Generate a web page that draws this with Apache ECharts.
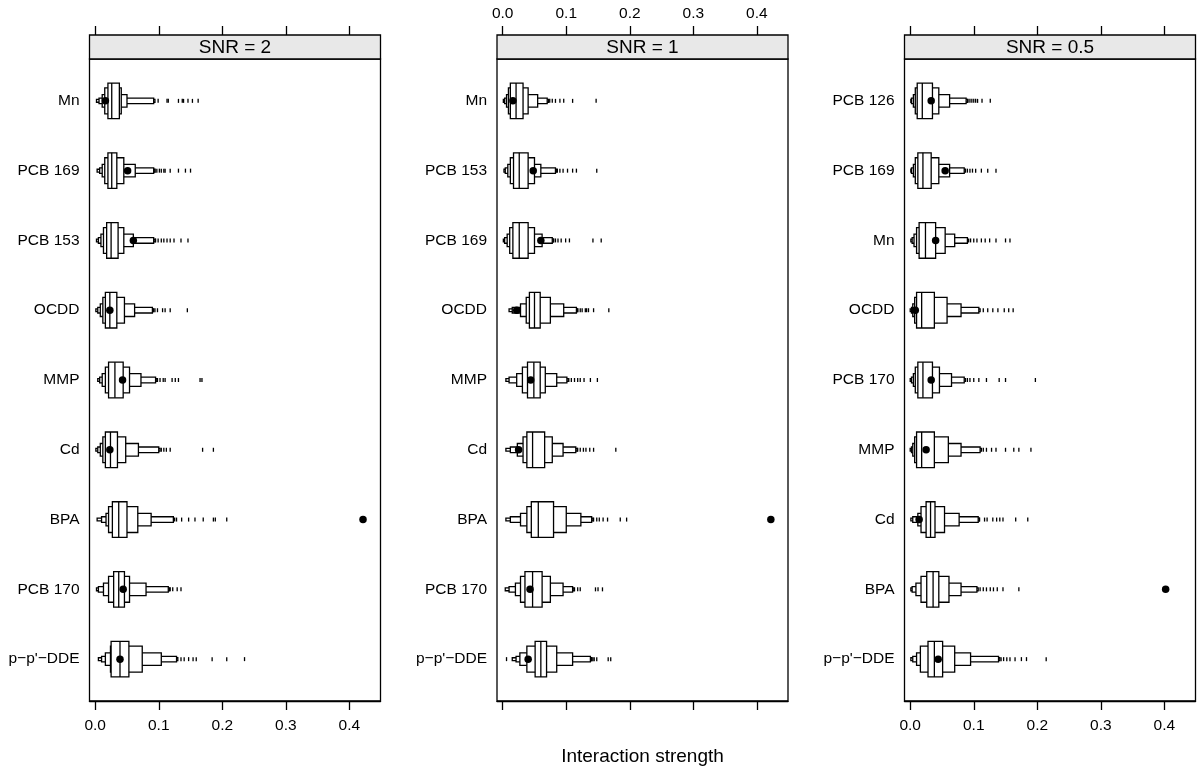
<!DOCTYPE html>
<html>
<head>
<meta charset="utf-8">
<script src="https://cdn.jsdelivr.net/npm/echarts@6/dist/echarts.min.js"></script>
<style>html,body{margin:0;padding:0;background:#fff}#c{width:1200px;height:775px}</style>
</head>
<body>
<div id="c"></div>
<script>
// ---------- DATA ----------
const panelTitles = ['SNR = 2', 'SNR = 1', 'SNR = 0.5'];
const xTicks = [0, 0.1, 0.2, 0.3, 0.4];

// categories, top to bottom
const categoriesSNR2 = ['Mn', 'PCB 169', 'PCB 153', 'OCDD', 'MMP', 'Cd', 'BPA', 'PCB 170', 'p\u2212p\'\u2212DDE'];
const categoriesSNR1 = ['Mn', 'PCB 153', 'PCB 169', 'OCDD', 'MMP', 'Cd', 'BPA', 'PCB 170', 'p\u2212p\'\u2212DDE'];
const categoriesSNR05 = ['PCB 126', 'PCB 169', 'Mn', 'OCDD', 'PCB 170', 'MMP', 'Cd', 'BPA', 'p\u2212p\'\u2212DDE'];

// letter values per row: [Blo, Clo, Dlo, Elo, Flo, median, Fhi, Ehi, Dhi, Chi, Bhi]
const lettersSNR2 = [
  [0.002, 0.006, 0.011, 0.015, 0.020, 0.026, 0.038, 0.041, 0.050, 0.092, 0.094],
  [0.003, 0.007, 0.011, 0.015, 0.020, 0.026, 0.034, 0.045, 0.063, 0.092, 0.094],
  [0.002, 0.005, 0.009, 0.013, 0.018, 0.025, 0.036, 0.045, 0.060, 0.092, 0.094],
  [0.001, 0.004, 0.008, 0.012, 0.016, 0.023, 0.034, 0.046, 0.062, 0.090, 0.092],
  [0.004, 0.007, 0.011, 0.016, 0.021, 0.031, 0.044, 0.054, 0.072, 0.095, 0.097],
  [0.001, 0.004, 0.008, 0.012, 0.016, 0.024, 0.035, 0.048, 0.068, 0.100, 0.102],
  [0.003, 0.010, 0.017, 0.021, 0.027, 0.037, 0.050, 0.067, 0.088, 0.123, 0.125],
  [0.002, 0.005, 0.013, 0.021, 0.029, 0.037, 0.046, 0.054, 0.080, 0.115, 0.117],
  [0.005, 0.010, 0.016, 0.024, 0.025, 0.039, 0.053, 0.074, 0.104, 0.128, 0.130]
];
const lettersSNR1 = [
  [0.001, 0.003, 0.006, 0.009, 0.012, 0.021, 0.032, 0.040, 0.055, 0.070, 0.072],
  [0.002, 0.004, 0.008, 0.012, 0.017, 0.026, 0.040, 0.050, 0.060, 0.083, 0.085],
  [0.001, 0.003, 0.007, 0.011, 0.016, 0.026, 0.040, 0.050, 0.062, 0.078, 0.080],
  [0.010, 0.015, 0.028, 0.037, 0.042, 0.050, 0.059, 0.075, 0.096, 0.116, 0.118],
  [0.005, 0.010, 0.022, 0.031, 0.039, 0.049, 0.059, 0.067, 0.085, 0.101, 0.103],
  [0.005, 0.012, 0.023, 0.032, 0.038, 0.047, 0.066, 0.078, 0.095, 0.115, 0.117],
  [0.005, 0.012, 0.028, 0.038, 0.045, 0.056, 0.080, 0.100, 0.123, 0.140, 0.142],
  [0.004, 0.010, 0.020, 0.028, 0.035, 0.047, 0.062, 0.075, 0.095, 0.110, 0.112],
  [0.015, 0.021, 0.027, 0.038, 0.051, 0.060, 0.069, 0.085, 0.110, 0.138, 0.140]
];
const lettersSNR05 = [
  [0.001, 0.002, 0.005, 0.008, 0.011, 0.019, 0.035, 0.045, 0.062, 0.088, 0.090],
  [0.001, 0.002, 0.005, 0.008, 0.012, 0.020, 0.033, 0.045, 0.062, 0.085, 0.087],
  [0.001, 0.003, 0.006, 0.010, 0.014, 0.024, 0.040, 0.055, 0.070, 0.090, 0.092],
  [0.000, 0.002, 0.004, 0.007, 0.010, 0.018, 0.038, 0.058, 0.080, 0.108, 0.110],
  [0.000, 0.002, 0.005, 0.008, 0.012, 0.020, 0.035, 0.046, 0.065, 0.085, 0.087],
  [0.000, 0.002, 0.004, 0.007, 0.010, 0.018, 0.038, 0.060, 0.080, 0.110, 0.112],
  [0.001, 0.004, 0.012, 0.017, 0.025, 0.032, 0.039, 0.054, 0.077, 0.107, 0.109],
  [0.001, 0.003, 0.009, 0.017, 0.026, 0.036, 0.045, 0.061, 0.080, 0.105, 0.107],
  [0.001, 0.004, 0.010, 0.016, 0.028, 0.038, 0.051, 0.070, 0.095, 0.139, 0.141]
];

// outlying values per row
const outliersSNR2 = [
  [0.099, 0.113, 0.115, 0.131, 0.137, 0.139, 0.146, 0.153, 0.162],
  [0.094, 0.097, 0.101, 0.104, 0.108, 0.110, 0.118, 0.131, 0.142, 0.150],
  [0.095, 0.099, 0.104, 0.108, 0.113, 0.118, 0.124, 0.135, 0.146],
  [0.091, 0.094, 0.098, 0.106, 0.110, 0.118, 0.145],
  [0.098, 0.102, 0.107, 0.110, 0.121, 0.126, 0.131, 0.165, 0.168],
  [0.104, 0.108, 0.112, 0.118, 0.169, 0.186],
  [0.128, 0.136, 0.147, 0.157, 0.170, 0.186, 0.189, 0.207],
  [0.118, 0.122, 0.129, 0.135],
  [0.135, 0.140, 0.147, 0.154, 0.159, 0.184, 0.207, 0.235]
];
const outliersSNR1 = [
  [0.074, 0.078, 0.083, 0.090, 0.096, 0.110, 0.147],
  [0.086, 0.090, 0.095, 0.102, 0.110, 0.116, 0.148],
  [0.080, 0.083, 0.087, 0.092, 0.099, 0.105, 0.142, 0.155],
  [0.118, 0.122, 0.125, 0.130, 0.132, 0.135, 0.143, 0.167],
  [0.104, 0.108, 0.113, 0.118, 0.122, 0.128, 0.138, 0.149],
  [0.118, 0.122, 0.127, 0.131, 0.137, 0.143, 0.178],
  [0.143, 0.148, 0.152, 0.158, 0.165, 0.185, 0.195],
  [0.113, 0.118, 0.122, 0.146, 0.150, 0.157],
  [0.006, 0.140, 0.142, 0.144, 0.148, 0.166, 0.170]
];
const outliersSNR05 = [
  [0.091, 0.094, 0.097, 0.100, 0.103, 0.106, 0.113, 0.126],
  [0.090, 0.094, 0.098, 0.103, 0.112, 0.122, 0.135],
  [0.095, 0.100, 0.105, 0.112, 0.118, 0.125, 0.135, 0.150, 0.157],
  [0.115, 0.122, 0.130, 0.138, 0.148, 0.155, 0.162],
  [0.090, 0.094, 0.100, 0.108, 0.120, 0.140, 0.150, 0.197],
  [0.115, 0.120, 0.128, 0.135, 0.150, 0.163, 0.171, 0.190],
  [0.109, 0.117, 0.121, 0.130, 0.136, 0.141, 0.146, 0.166, 0.185],
  [0.110, 0.115, 0.120, 0.126, 0.131, 0.137, 0.146, 0.171],
  [0.143, 0.147, 0.152, 0.157, 0.165, 0.175, 0.183, 0.214]
];

// observed interaction strength (filled dots)
const pointsSNR2 = [0.016, 0.051, 0.060, 0.023, 0.043, 0.023, 0.4215, 0.044, 0.039];
const pointsSNR1 = [0.016, 0.048, 0.060, 0.022, 0.044, 0.025, 0.422, 0.043, 0.040];
const pointsSNR05 = [0.033, 0.055, 0.040, 0.008, 0.033, 0.025, 0.014, 0.402, 0.044];

// ---------- CHART ----------
const panels = [
  {title: panelTitles[0], cats: categoriesSNR2, letters: lettersSNR2, outs: outliersSNR2, pts: pointsSNR2},
  {title: panelTitles[1], cats: categoriesSNR1, letters: lettersSNR1, outs: outliersSNR1, pts: pointsSNR1},
  {title: panelTitles[2], cats: categoriesSNR05, letters: lettersSNR05, outs: outliersSNR05, pts: pointsSNR05}
];
const FONT = '"Liberation Sans", Arial, Helvetica, sans-serif';
const gridLefts = [89.5, 497, 904.5];
const GW = 291, GT = 59, GH = 642;
const XMIN = -0.009, XMAX = 0.449;
const LEVEL_H = [0.04, 0.08, 0.18, 0.37, 0.51]; // box heights in row units (B..F)
const LW = 1.3;

const rowY = i => 9 - i;

function renderLV(params, api) {
  const y = api.value(0);
  const v = [];
  for (let i = 1; i <= 11; i++) v.push(api.value(i));
  const children = [];
  for (let k = 0; k < 5; k++) {
    const p0 = api.coord([v[k], y]);
    const p1 = api.coord([v[10 - k], y]);
    const h = api.size([0, LEVEL_H[k]])[1];
    children.push({
      type: 'rect',
      shape: {x: p0[0], y: p0[1] - h / 2, width: Math.max(p1[0] - p0[0], 0.5), height: h},
      style: {fill: '#fff', stroke: '#000', lineWidth: LW}
    });
  }
  const pm = api.coord([v[5], y]);
  const hF = api.size([0, LEVEL_H[4]])[1];
  children.push({
    type: 'line',
    shape: {x1: pm[0], y1: pm[1] - hF / 2, x2: pm[0], y2: pm[1] + hF / 2},
    style: {stroke: '#000', lineWidth: LW}
  });
  return {type: 'group', children};
}

const grid = [], xAxis = [], yAxis = [], series = [], graphic = [];
panels.forEach((p, pi) => {
  grid.push({left: gridLefts[pi], top: GT, width: GW, height: GH, show: true, borderColor: '#000', borderWidth: LW, backgroundColor: '#fff'});
  // bottom axis
  xAxis.push({
    type: 'value', gridIndex: pi, position: 'bottom', min: XMIN, max: XMAX,
    axisLine: {show: true, lineStyle: {color: '#000', width: LW}},
    axisTick: {show: true, length: 9, customValues: xTicks, lineStyle: {color: '#000', width: LW}},
    axisLabel: {show: pi !== 1, customValues: xTicks, margin: 17, color: '#000', fontSize: 15.5, fontFamily: FONT,
      formatter: val => val.toFixed(1)},
    splitLine: {show: false},
    name: pi === 1 ? 'Interaction strength' : '', nameLocation: 'middle', nameGap: 46,
    nameTextStyle: {color: '#000', fontSize: 19, fontFamily: FONT}
  });
  // top axis (above strip)
  xAxis.push({
    type: 'value', gridIndex: pi, position: 'top', offset: 24, min: XMIN, max: XMAX,
    axisLine: {show: false},
    axisTick: {show: true, length: 9, customValues: xTicks, lineStyle: {color: '#000', width: LW}},
    axisLabel: {show: pi === 1, customValues: xTicks, margin: 13, color: '#000', fontSize: 15.5, fontFamily: FONT,
      formatter: val => val.toFixed(1)},
    splitLine: {show: false}
  });
  yAxis.push({
    type: 'value', gridIndex: pi, min: 0.4, max: 9.6,
    axisLine: {show: false}, axisTick: {show: false}, splitLine: {show: false},
    axisLabel: {customValues: [1, 2, 3, 4, 5, 6, 7, 8, 9], margin: 10, color: '#000', fontSize: 15.5, fontFamily: FONT,
      formatter: val => p.cats[9 - Math.round(val)]}
  });
  series.push({
    type: 'custom', xAxisIndex: pi * 2, yAxisIndex: pi, renderItem: renderLV,
    encode: {x: [1, 2, 3, 4, 5, 6, 7, 8, 9, 10, 11], y: 0},
    data: p.letters.map((row, i) => [rowY(i)].concat(row)), z: 2, silent: true
  });
  const outData = [];
  p.outs.forEach((row, i) => row.forEach(val => outData.push([val, rowY(i)])));
  series.push({
    type: 'scatter', xAxisIndex: pi * 2, yAxisIndex: pi, symbol: 'rect', symbolSize: [1.3, 4],
    itemStyle: {color: '#000', opacity: 1}, data: outData, z: 3, silent: true
  });
  series.push({
    type: 'scatter', xAxisIndex: pi * 2, yAxisIndex: pi, symbol: 'circle', symbolSize: 7.5,
    itemStyle: {color: '#000', opacity: 1}, data: p.pts.map((val, i) => [val, rowY(i)]), z: 4, silent: true
  });
  // strip
  graphic.push({
    type: 'rect', shape: {x: gridLefts[pi], y: 35, width: GW, height: 24},
    style: {fill: '#e8e8e8', stroke: '#000', lineWidth: LW}, z: 10
  });
  graphic.push({
    type: 'text', x: gridLefts[pi] + GW / 2, y: 47.5,
    style: {text: p.title, fill: '#000', fontSize: 19, fontFamily: FONT, align: 'center', verticalAlign: 'middle'}, z: 11
  });
});

const chart = echarts.init(document.getElementById('c'), null, {renderer: 'canvas'});
chart.setOption({animation: false, backgroundColor: '#fff', grid, xAxis, yAxis, series, graphic});
</script>
</body>
</html>
